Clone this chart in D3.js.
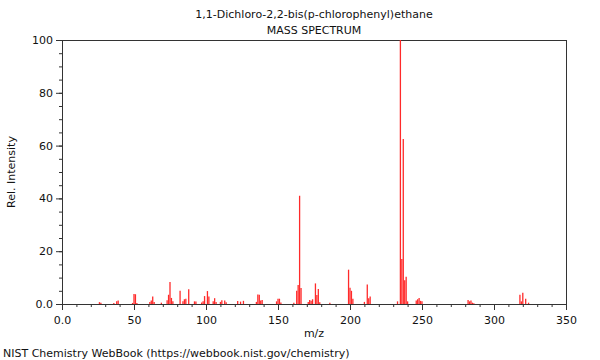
<!DOCTYPE html>
<html>
<head>
<meta charset="utf-8">
<script src="https://cdn.jsdelivr.net/npm/d3@7"></script>
<style>
  body { margin: 0; background: #fff; }
  svg text { font-family: "DejaVu Sans", sans-serif; fill: #111; }
</style>
</head>
<body>
<div id="chart"></div>
<script>
// peaks: m/z and relative intensity
const mzValues = [26, 27, 36, 38, 39, 49, 50, 51, 52, 61, 62, 63, 64, 69, 73, 74, 75, 76, 77,
  82, 84, 85, 86, 88, 92, 93, 97, 98, 99, 101, 102, 105, 106, 107, 110, 111, 113, 114,
  122, 124, 126, 135, 136, 137, 138, 139, 149, 150, 151, 152, 161, 163, 164, 165, 166,
  171, 172, 173, 174, 176, 177, 178, 179, 186, 199, 200, 201, 202, 210, 212, 213, 214,
  233, 235, 236, 237, 238, 239, 240, 246, 247, 248, 249, 250, 282, 283, 284, 285, 286,
  318, 319, 320, 322, 324];
const intensities = [0.7, 0.5, 0.4, 1.0, 1.3, 0.4, 3.8, 3.7, 0.4, 0.8, 1.3, 2.8, 0.8, 0.5, 1.4, 3.5, 8.3, 2.3, 1.0,
  5.0, 1.0, 1.8, 2.0, 5.6, 1.0, 0.9, 0.6, 1.0, 3.0, 4.9, 2.8, 1.0, 2.2, 0.8, 0.8, 1.4, 1.3, 0.7,
  1.1, 0.9, 1.2, 0.8, 3.6, 3.5, 1.3, 1.5, 1.0, 2.0, 2.0, 0.6, 0.5, 5.0, 7.2, 41, 6.1,
  0.8, 1.5, 1.2, 1.8, 7.8, 3.4, 5.7, 0.7, 0.5, 13.0, 6.2, 5.0, 2.0, 0.8, 7.4, 2.2, 2.8,
  1.0, 100, 17, 62.5, 9.0, 10.3, 1.0, 1.3, 1.8, 2.3, 1.2, 1.0, 1.5, 1.0, 1.3, 0.5, 0.3,
  3.5, 1.0, 4.3, 2.0, 0.5];

const xTicks = [0, 50, 100, 150, 200, 250, 300, 350];
const yTicks = [0, 20, 40, 60, 80, 100];

const chartTitle = "1,1-Dichloro-2,2-bis(p-chlorophenyl)ethane";
const subTitle = "MASS SPECTRUM";

const peaks = mzValues.map((m, i) => ({mz: m, val: intensities[i]}));

const W = 600, H = 360;
const margin = {top: 40, right: 34, bottom: 56, left: 62};
const width = W - margin.left - margin.right;
const height = H - margin.top - margin.bottom;

const svg = d3.select("#chart").append("svg")
    .attr("width", W)
    .attr("height", H);

const g = svg.append("g")
    .attr("transform", `translate(${margin.left},${margin.top})`);

const x = d3.scaleLinear().domain([0, 350]).range([0, width]);
const y = d3.scaleLinear().domain([0, 100]).range([height, 0]);

const fmt = d => d === 0 ? "0.0" : d;

// minor ticks first
g.append("g")
    .attr("transform", `translate(0,${height})`)
    .call(d3.axisBottom(x).tickValues(d3.range(0, 351, 10)).tickSize(3).tickFormat(""))
    .call(a => a.select(".domain").remove());
g.append("g")
    .call(d3.axisLeft(y).tickValues(d3.range(0, 101, 5)).tickSize(3).tickFormat(""))
    .call(a => a.select(".domain").remove());

// major axes
g.append("g")
    .attr("class", "x-axis")
    .attr("transform", `translate(0,${height})`)
    .call(d3.axisBottom(x).tickValues(xTicks).tickSize(6).tickFormat(fmt));
g.append("g")
    .attr("class", "y-axis")
    .call(d3.axisLeft(y).tickValues(yTicks).tickSize(6).tickFormat(fmt));

g.selectAll(".tick line").attr("stroke", "#333");
g.selectAll(".domain").attr("stroke", "#333");
g.selectAll(".tick text")
    .style("font-size", "11px")
    .style("font-family", "DejaVu Sans, sans-serif")
    .attr("fill", "#111");
g.select(".x-axis").selectAll(".tick text").attr("dy", "1.0em");

// frame top + right
g.append("line").attr("x1", 0).attr("x2", width).attr("y1", 0.5).attr("y2", 0.5)
    .attr("stroke", "#333");
g.append("line").attr("x1", width + 0.5).attr("x2", width + 0.5).attr("y1", 0).attr("y2", height)
    .attr("stroke", "#333");

// peaks
g.append("g").selectAll("line")
    .data(peaks)
    .enter()
    .append("line")
    .attr("x1", d => x(d.mz))
    .attr("x2", d => x(d.mz))
    .attr("y1", y(0))
    .attr("y2", d => y(d.val))
    .attr("stroke", "#ff2a2a")
    .attr("stroke-width", 1.3);

// titles
svg.append("text")
    .attr("x", margin.left + width / 2)
    .attr("y", 18)
    .attr("text-anchor", "middle")
    .style("font-size", "11px")
    .text(chartTitle);
svg.append("text")
    .attr("x", margin.left + width / 2)
    .attr("y", 34)
    .attr("text-anchor", "middle")
    .style("font-size", "11px")
    .text(subTitle);

// axis labels
svg.append("text")
    .attr("x", margin.left + width / 2)
    .attr("y", 337)
    .attr("text-anchor", "middle")
    .style("font-size", "11px")
    .text("m/z");
svg.append("text")
    .attr("transform", `translate(15,${margin.top + height / 2}) rotate(-90)`)
    .attr("text-anchor", "middle")
    .style("font-size", "11px")
    .text("Rel. Intensity");

// footer
svg.append("text")
    .attr("x", 3)
    .attr("y", 357)
    .style("font-size", "11px")
    .text("NIST Chemistry WebBook (https://webbook.nist.gov/chemistry)");
</script>
</body>
</html>
